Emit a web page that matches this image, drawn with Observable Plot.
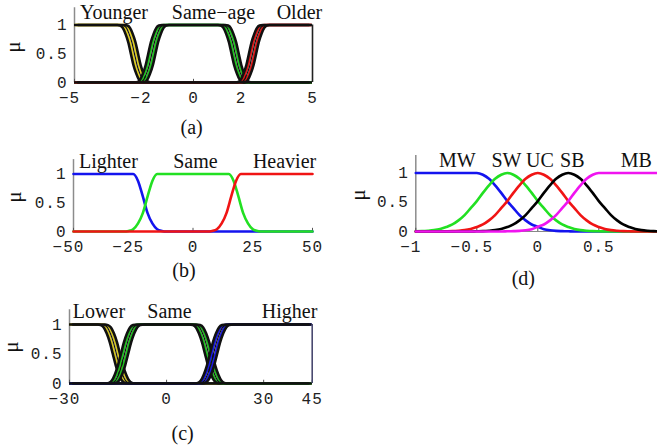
<!DOCTYPE html>
<html><head><meta charset="utf-8">
<script src="https://cdn.jsdelivr.net/npm/d3@7"></script>
<script src="https://cdn.jsdelivr.net/npm/@observablehq/plot@0.6"></script>
<style>
html,body{margin:0;padding:0;background:#fff;overflow:hidden;}
#fig{position:relative;width:657px;height:445px;overflow:hidden;background:#fff;}
.panel{position:absolute;}
.panel svg{max-width:none !important;overflow:visible;background:transparent;}
.cap{position:absolute;font-family:'Liberation Serif','DejaVu Serif',serif;font-size:20px;line-height:22px;color:#111;transform:translate(-50%,-50%);white-space:nowrap;}
.mu{position:absolute;font-family:'Liberation Serif','DejaVu Serif',serif;font-size:21px;line-height:22px;color:#111;transform:translate(-50%,-50%) rotate(-90deg);}
</style></head><body><div id="fig"></div>
<script>
// ---------- Panel (a): age difference ----------
const aTicks = [-5, -2, 0, 2, 5];
const aNames = ["Younger", "Same\u2212age", "Older"];
const aNameX = [-3.34, 0.84, 4.45];
const aColors = ["#e2d020", "#20c520", "#e01818"];
const aYoungerX = [-5, -3.05, -2.93, -2.82, -2.71, -2.59, -2.48, -2.37, -2.25, -2.14, -2.03, -1.9, 5];
const aYoungerY = [1, 1, 0.99, 0.95, 0.85, 0.7, 0.5, 0.3, 0.15, 0.05, 0.01, 0, 0];
const aSameX = [-5, -2.35, -2.2, -2.09, -1.98, -1.86, -1.75, -1.64, -1.52, -1.41, -1.3, -1.18, 1.18, 1.3, 1.41, 1.52, 1.64, 1.75, 1.86, 1.98, 2.09, 2.2, 2.35, 5];
const aSameY = [0, 0, 0.01, 0.05, 0.15, 0.3, 0.5, 0.7, 0.85, 0.95, 0.99, 1, 1, 0.99, 0.95, 0.85, 0.7, 0.5, 0.3, 0.15, 0.05, 0.01, 0, 0];
const aOlderX = [-5, 1.9, 2.03, 2.14, 2.25, 2.37, 2.48, 2.59, 2.71, 2.82, 2.93, 3.05, 5];
const aOlderY = [0, 0, 0.01, 0.05, 0.15, 0.3, 0.5, 0.7, 0.85, 0.95, 0.99, 1, 1];

// ---------- Panel (b): weight difference ----------
const bTicks = [-50, -25, 0, 25, 50];
const bNames = ["Lighter", "Same", "Heavier"];
const bNameX = [-35.4, 1.0, 38.3];
const bColors = ["#1414ee", "#22e022", "#f01414"];
const bLighterX = [-50, -25, -23, -21, -19, -17, -15, -13, -11, 50];
const bLighterY = [1, 1, 0.88, 0.61, 0.32, 0.14, 0.04, 0.01, 0, 0];
const bSameX = [-50, -29, -27, -25, -23, -21, -19, -17, -15, 15, 17, 19, 21, 23, 25, 27, 29, 50];
const bSameY = [0, 0, 0.01, 0.04, 0.14, 0.32, 0.61, 0.88, 1, 1, 0.88, 0.61, 0.32, 0.14, 0.04, 0.01, 0, 0];
const bHeavierX = [-50, 6, 8, 10, 12, 14, 16, 18, 20, 50];
const bHeavierY = [0, 0, 0.01, 0.04, 0.14, 0.32, 0.61, 0.88, 1, 1];

// ---------- Panel (c): height difference ----------
const cTicks = [-30, 0, 30, 45];
const cNames = ["Lower", "Same", "Higher"];
const cNameX = [-20.9, 0.9, 38.0];
const cColors = ["#d8c820", "#20c020", "#1a1ae0"];
const cLowerX = [-30, -20.2, -19.25, -18.3, -17.4, -16.45, -15.5, -14.55, -13.6, -12.7, -11.75, -10.5, 45];
const cLowerY = [1, 1, 0.99, 0.95, 0.85, 0.7, 0.5, 0.3, 0.15, 0.05, 0.01, 0, 0];
const cSameX = [-30, -18.0, -16.75, -15.8, -14.9, -13.95, -13, -12.05, -11.1, -10.2, -9.25, -8.0, 8.0, 9.25, 10.2, 11.1, 12.05, 13, 13.95, 14.9, 15.8, 16.75, 18.0, 45];
const cSameY = [0, 0, 0.01, 0.05, 0.15, 0.3, 0.5, 0.7, 0.85, 0.95, 0.99, 1, 1, 0.99, 0.95, 0.85, 0.7, 0.5, 0.3, 0.15, 0.05, 0.01, 0, 0];
const cHigherX = [-30, 9.5, 10.75, 11.7, 12.6, 13.55, 14.5, 15.45, 16.4, 17.3, 18.25, 19.5, 45];
const cHigherY = [0, 0, 0.01, 0.05, 0.15, 0.3, 0.5, 0.7, 0.85, 0.95, 0.99, 1, 1];

// ---------- Panel (d): five-term scale ----------
const dTicks = [-1, -0.5, 0, 0.5];
const dNames = ["MW", "SW", "UC", "SB", "MB"];
const dNameX = [-0.66, -0.257, 0.017, 0.283, 0.807];
const dColors = ["#1414ee", "#22e022", "#f01414", "#000000", "#f014f0"];
const dX = [-1,-0.95,-0.9,-0.85,-0.8,-0.75,-0.7,-0.65,-0.6,-0.55,-0.5,-0.45,-0.4,-0.35,-0.3,-0.25,-0.2,-0.15,-0.1,-0.05,0,0.05,0.1,0.15,0.2,0.25,0.3,0.35,0.4,0.45,0.5,0.55,0.6,0.65,0.7,0.75,0.8,0.85,0.9,0.95,1];
const dMW = [1,1,1,1,1,1,1,1,1,1,1,0.97,0.90,0.79,0.66,0.52,0.40,0.28,0.19,0.12,0.08,0.04,0.02,0.01,0.006,0.003,0,0,0,0,0,0,0,0,0,0,0,0,0,0,0];
const dSW = [0.003,0.006,0.013,0.024,0.044,0.076,0.12,0.19,0.28,0.40,0.52,0.66,0.79,0.90,0.97,1,0.97,0.90,0.79,0.66,0.52,0.40,0.28,0.19,0.12,0.076,0.044,0.024,0.013,0.006,0.003,0.001,0,0,0,0,0,0,0,0,0];
const dUC = [0,0,0,0.001,0.001,0.003,0.006,0.013,0.024,0.044,0.076,0.12,0.19,0.28,0.40,0.52,0.66,0.79,0.90,0.97,1,0.97,0.90,0.79,0.66,0.52,0.40,0.28,0.19,0.12,0.076,0.044,0.024,0.013,0.006,0.003,0.001,0.001,0,0,0];
const dSB = [0,0,0,0,0,0,0,0,0,0.001,0.003,0.006,0.013,0.024,0.044,0.076,0.12,0.19,0.28,0.40,0.52,0.66,0.79,0.90,0.97,1,0.97,0.90,0.79,0.66,0.52,0.40,0.28,0.19,0.12,0.076,0.044,0.024,0.013,0.006,0.003];
const dMB = [0,0,0,0,0,0,0,0,0,0,0,0,0,0,0,0.003,0.006,0.01,0.02,0.04,0.08,0.12,0.19,0.28,0.40,0.52,0.66,0.79,0.90,0.97,1,1,1,1,1,1,1,1,1,1,1];

const yTicks = [0, 0.5, 1];
const MONO = "'Liberation Mono','DejaVu Sans Mono',monospace";
const SERIF = "'Liberation Serif','DejaVu Serif',serif";

const rows = (xs, ys) => xs.map((x, i) => ({x, y: ys[i]}));

function makePanel(cfg) {
  const {w, h, xPix, y0, y1, xDomain, yMax, yMin} = cfg;
  const k = y0 - y1;
  const mT = y0 - yMax * k;
  const mB = h - (y0 - yMin * k);
  const mL = xPix[0], mR = w - xPix[1];
  const marks = [];
  marks.push(Plot.ruleY([0], {stroke: "#888", strokeWidth: 1}));
  marks.push(Plot.ruleX([xDomain[0]], {y1: 0, y2: yMax, stroke: "#8c8c8c", strokeWidth: 1.5}));
  marks.push(Plot.ruleX(cfg.xTicks, {x: d => d, y1: 0, y2: 0.055, stroke: "#555", strokeWidth: 1}));
  cfg.series.forEach((s, i) => {
    const data = rows(s.x, s.y);
    if (cfg.banded) {
      for (const dx of [-1.8, 1.8]) marks.push(Plot.line(data, {x: "x", y: "y", stroke: cfg.colors[i], strokeWidth: 2.3, dx, curve: "monotone-x", clip: true}));
      marks.push(Plot.line(data, {x: "x", y: "y", stroke: "#111", strokeWidth: 2.6, dx: -3.6, curve: "monotone-x", clip: true}));
      marks.push(Plot.line(data, {x: "x", y: "y", stroke: "#111", strokeWidth: 2.6, dx: 3.6, curve: "monotone-x", clip: true}));
      marks.push(Plot.line(data, {x: "x", y: "y", stroke: "#111", strokeWidth: 1.2, dx: 0, curve: "monotone-x", clip: true}));
    } else {
      marks.push(Plot.line(data, {x: "x", y: "y", stroke: cfg.colors[i], strokeWidth: 2.6, curve: "monotone-x"}));
    }
  });
  if (cfg.rightRule) marks.push(Plot.ruleX([xDomain[1]], {y1: 0, y2: 1, stroke: cfg.rightRule, strokeWidth: 1.6}));
  marks.push(Plot.text(yTicks, {y: d => d, frameAnchor: "left", textAnchor: "end", dx: -7, text: d => String(d), fontFamily: MONO, fontSize: 16, fill: "#222"}));
  marks.push(Plot.text(cfg.xTicks.filter(d => d >= 0), {x: d => d, y: 0, dy: 9, lineAnchor: "top", text: d => String(d), fontFamily: MONO, fontSize: 16, fill: "#222"}));
  marks.push(Plot.text(cfg.xTicks.filter(d => d < 0), {x: d => d, y: 0, dy: 9, dx: -5, lineAnchor: "top", text: d => "\u2212" + String(-d), fontFamily: MONO, fontSize: 16, fill: "#222"}));
  marks.push(Plot.text(cfg.names, {x: (d, i) => cfg.nameX[i], y: 1.11, lineAnchor: "bottom", text: d => d, fontFamily: SERIF, fontSize: 20, fill: "#111"}));
  const svg = Plot.plot({
    width: w, height: h,
    marginLeft: mL, marginRight: mR, marginTop: mT, marginBottom: mB,
    x: {domain: xDomain, axis: null},
    y: {domain: [yMin, yMax], axis: null},
    style: {background: "transparent", overflow: "visible"},
    marks
  });
  d3.select(svg).selectAll("g[font-family*='Mono']").attr("letter-spacing", "1px");
  const div = document.createElement("div");
  div.className = "panel";
  div.style.left = cfg.left + "px";
  div.style.top = cfg.top + "px";
  div.style.width = w + "px";
  div.style.height = h + "px";
  div.appendChild(svg);
  const fig = document.getElementById("fig");
  fig.appendChild(div);
  const cap = document.createElement("div");
  cap.className = "cap"; cap.textContent = cfg.caption;
  cap.style.left = cfg.capPos[0] + "px"; cap.style.top = cfg.capPos[1] + "px";
  fig.appendChild(cap);
  const mu = document.createElement("div");
  mu.className = "mu"; mu.textContent = "\u03bc";
  mu.style.left = cfg.muPos[0] + "px"; mu.style.top = cfg.muPos[1] + "px";
  fig.appendChild(mu);
}

makePanel({left: 0, top: 0, w: 330, h: 140, xPix: [74, 312], y0: 82, y1: 24.5, xDomain: [-5, 5], yMin: -0.03, yMax: 1.3,
  xTicks: aTicks, banded: true, colors: aColors, names: aNames, nameX: aNameX, rightRule: "#222",
  series: [{x: aYoungerX, y: aYoungerY}, {x: aSameX, y: aSameY}, {x: aOlderX, y: aOlderY}],
  caption: "(a)", capPos: [191.7, 126.7], muPos: [13, 47]});

makePanel({left: 0, top: 140, w: 330, h: 160, xPix: [73, 312], y0: 91, y1: 33.5, xDomain: [-50, 50], yMin: -0.03, yMax: 1.25,
  xTicks: bTicks, banded: false, colors: bColors, names: bNames, nameX: bNameX,
  series: [{x: bLighterX, y: bLighterY}, {x: bSameX, y: bSameY}, {x: bHeavierX, y: bHeavierY}],
  caption: "(b)", capPos: [184, 270], muPos: [13.5, 196.5]});

makePanel({left: 0, top: 300, w: 330, h: 145, xPix: [69, 311.7], y0: 83, y1: 24, xDomain: [-30, 45], yMin: -0.03, yMax: 1.25,
  xTicks: cTicks, banded: true, colors: cColors, names: cNames, nameX: cNameX, rightRule: "#4a4a70",
  series: [{x: cLowerX, y: cLowerY}, {x: cSameX, y: cSameY}, {x: cHigherX, y: cHigherY}],
  caption: "(c)", capPos: [182.7, 433], muPos: [11, 346.5]});

makePanel({left: 330, top: 140, w: 330, h: 160, xPix: [85.3, 329.3], y0: 91, y1: 32.5, xDomain: [-1, 1], yMin: -0.03, yMax: 1.3,
  xTicks: dTicks, banded: false, colors: dColors, names: dNames, nameX: dNameX,
  series: [{x: dX, y: dMW}, {x: dX, y: dSW}, {x: dX, y: dUC}, {x: dX, y: dSB}, {x: dX, y: dMB}],
  caption: "(d)", capPos: [523.3, 278.3], muPos: [357.5, 195]});
</script></body></html>
